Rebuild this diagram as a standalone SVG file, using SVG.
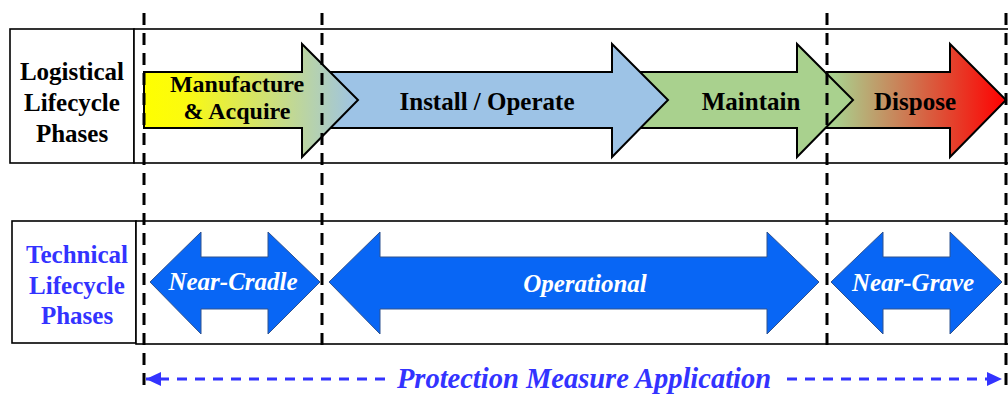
<svg xmlns="http://www.w3.org/2000/svg" width="1008" height="394" viewBox="0 0 1008 394">
<style>
.frame{fill:#fff;stroke:#000;stroke-width:1.6}
.phase{stroke:#000;stroke-width:2;stroke-linejoin:miter}
.tech{fill:#0866f5;stroke:#2f528f;stroke-width:1}
.lbl{font-family:"Liberation Serif","Times New Roman",serif;font-weight:bold;font-size:25px;text-anchor:middle;fill:#000}
.blue{fill:#3333ff}
.ptxt{font-family:"Liberation Serif","Times New Roman",serif;font-weight:bold;font-size:25px;text-anchor:middle;fill:#000}
.ptxt2{font-family:"Liberation Serif","Times New Roman",serif;font-weight:bold;font-size:24px;text-anchor:middle;fill:#000}
.ttxt{font-family:"Liberation Serif","Times New Roman",serif;font-weight:bold;font-style:italic;font-size:25px;text-anchor:middle;fill:#fff}
.vdash{stroke:#000;stroke-width:3;stroke-dasharray:12 8;fill:none}
.hdash{stroke:#3333ff;stroke-width:3;stroke-dasharray:10 8;fill:none}
</style>
<defs>
<linearGradient id="gMan" gradientUnits="userSpaceOnUse" x1="144" y1="0" x2="358" y2="0">
<stop offset="0" stop-color="#ffff00"/>
<stop offset="0.2" stop-color="#fbfa10"/>
<stop offset="1" stop-color="#9dc3e6"/>
</linearGradient>
<linearGradient id="gDis" gradientUnits="userSpaceOnUse" x1="834" y1="0" x2="1006" y2="0">
<stop offset="0" stop-color="#a9d18e"/>
<stop offset="1" stop-color="#ff0000"/>
</linearGradient>
<marker id="ah" markerWidth="16" markerHeight="16" refX="15" refY="8" orient="auto" markerUnits="userSpaceOnUse">
<path d="M0,1 L15,8 L0,15 Z" fill="#3333ff"/>
</marker>
</defs>

<g id="frames">
<rect class="frame" x="10" y="29" width="124" height="134"/>
<rect class="frame" x="134" y="29" width="880" height="134"/>
<rect class="frame" x="12" y="221" width="124" height="122"/>
<rect class="frame" x="136" y="221" width="880" height="123"/>
</g>

<g id="logistical-label">
<text class="lbl" x="72" y="80">Logistical</text>
<text class="lbl" x="72" y="111">Lifecycle</text>
<text class="lbl" x="72" y="142">Phases</text>
</g>

<g id="technical-label">
<text class="lbl blue" x="77" y="263">Technical</text>
<text class="lbl blue" x="77" y="294">Lifecycle</text>
<text class="lbl blue" x="77" y="324">Phases</text>
</g>

<g id="dispose">
<polygon class="phase" fill="url(#gDis)" points="827,72 950,72 950,44 1006,100 950,157 950,128 827,128"/>
<text class="ptxt" x="915" y="110">Dispose</text>
</g>
<g id="maintain">
<polygon class="phase" fill="#a9d18e" points="620,72 797,72 797,44 853,100 797,157 797,128 620,128"/>
<text class="ptxt" x="751" y="110">Maintain</text>
</g>
<g id="install-operate">
<polygon class="phase" fill="#9dc3e6" points="300,72 612,72 612,44 668,100 612,157 612,128 300,128"/>
<text class="ptxt" x="487" y="110">Install / Operate</text>
</g>
<g id="manufacture-acquire">
<polygon class="phase" fill="url(#gMan)" points="144,72 302,72 302,44 358,100 302,157 302,128 144,128"/>
<text class="ptxt2" x="237" y="92">Manufacture</text>
<text class="ptxt2" x="237" y="119">&amp; Acquire</text>
</g>

<g id="near-cradle">
<polygon class="tech" points="150,282 201,232 201,257 268,257 268,232 320,282 268,334 268,309 201,309 201,334"/>
<text class="ttxt" x="233" y="290">Near-Cradle</text>
</g>
<g id="operational">
<polygon class="tech" points="329,282 380,232 380,257 767,257 767,232 819,282 767,334 767,309 380,309 380,334"/>
<text class="ttxt" x="585" y="292">Operational</text>
</g>
<g id="near-grave">
<polygon class="tech" points="831,282 883,232 883,257 950,257 950,232 1002,282 950,334 950,309 883,309 883,334"/>
<text class="ttxt" x="913" y="291">Near-Grave</text>
</g>

<g id="connectors">
<line class="vdash" x1="144" y1="13" x2="144" y2="388"/>
<line class="vdash" x1="322" y1="13" x2="322" y2="345"/>
<line class="vdash" x1="827" y1="13" x2="827" y2="345"/>
<line class="vdash" x1="1006" y1="13" x2="1006" y2="388"/>
<line class="hdash" x1="385" y1="379" x2="146" y2="379" marker-end="url(#ah)"/>
<line class="hdash" x1="787" y1="379" x2="1002" y2="379" marker-end="url(#ah)"/>
</g>

<g id="protection-label">
<text x="584" y="388" font-family="Liberation Serif, Times New Roman, serif" font-weight="bold" font-style="italic" font-size="28.5" text-anchor="middle" fill="#3333ff">Protection Measure Application</text>
</g>
</svg>
